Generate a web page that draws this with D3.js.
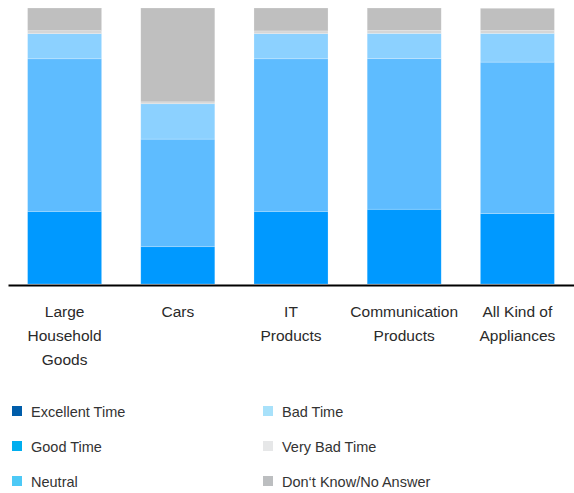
<!DOCTYPE html>
<html>
<head>
<meta charset="utf-8">
<script src="https://cdn.jsdelivr.net/npm/d3@7"></script>
<style>
  html, body { margin: 0; padding: 0; background: #fff; }
  svg { display: block; }
  text { font-family: "Liberation Sans", Arial, sans-serif; }
</style>
</head>
<body>
<svg id="chart" width="574" height="493"></svg>
<script>
// Product categories (line breaks mark the wrapped label lines)
const categories = [
  "Large\nHousehold\nGoods",
  "Cars",
  "IT\nProducts",
  "Communication\nProducts",
  "All Kind of\nAppliances"
];

// Share of answers per category, in percent, stacked bottom to top
const excellentTime = [0, 0, 0, 0, 0];
const goodTime      = [26.3, 13.5, 26.3, 27.1, 25.5];
const neutral       = [55.3, 39.0, 55.3, 54.6, 54.9];
const badTime       = [9.1, 12.8, 9.1, 9.1, 10.4];
const veryBadTime   = [1.1, 0.7, 1.0, 1.1, 1.1];
const dontKnow      = [8.2, 34.0, 8.3, 8.1, 8.0];

const seriesNames = ["Excellent Time", "Good Time", "Neutral", "Bad Time", "Very Bad Time", "Don\u2018t Know/No Answer"];
const seriesValues = [excellentTime, goodTime, neutral, badTime, veryBadTime, dontKnow];

// Fill colours for the bar segments and for the legend swatches
const barColors    = ["#005DAA", "#0099FF", "#5EBCFF", "#8CD1FF", "#D6D6D6", "#BFBFBF"];
const legendColors = ["#005DAA", "#00AEEF", "#4DC9F6", "#A8E1FA", "#E6E7E8", "#BCBEC0"];

const svg = d3.select("#chart");

const x = d3.scaleBand()
  .domain(categories)
  .range([8, 574])
  .paddingInner(0.346)
  .paddingOuter(0.173);

const y = d3.scaleLinear().domain([0, 100]).range([284, 8]);

// Build the stack from the named series
const table = categories.map((c, i) => {
  const row = { category: c };
  seriesNames.forEach((s, j) => { row[s] = seriesValues[j][i]; });
  return row;
});
const stacked = d3.stack().keys(seriesNames)(table);

svg.append("g")
  .selectAll("g")
  .data(stacked)
  .join("g")
    .attr("fill", (d, i) => barColors[i])
  .selectAll("rect")
  .data(d => d)
  .join("rect")
    .attr("x", d => x(d.data.category))
    .attr("width", x.bandwidth())
    .attr("y", d => y(d[1]))
    .attr("height", d => Math.max(0, y(d[0]) - y(d[1])))
    .attr("stroke", "#fff")
    .attr("stroke-opacity", d => (d[1] - d[0]) > 0 ? 0.35 : 0)
    .attr("stroke-width", 0.6);

// Category axis
const axis = svg.append("g")
  .attr("transform", "translate(0,285)")
  .call(d3.axisBottom(x).tickSize(0).tickFormat(""));
axis.select(".domain").attr("stroke", "#000").attr("stroke-width", 2);

axis.selectAll(".tick").each(function(d) {
  const lines = d.split("\n");
  const t = d3.select(this).append("text")
    .attr("fill", "#2a2a2a")
    .attr("font-size", 15.5)
    .attr("text-anchor", "middle");
  lines.forEach((line, k) => {
    t.append("tspan").attr("x", 0).attr("y", 31.5 + k * 24).text(line);
  });
});

// Legend in two columns
const legend = svg.append("g")
  .selectAll("g")
  .data(seriesNames)
  .join("g")
    .attr("transform", (d, i) => `translate(${i < 3 ? 12 : 263},${406 + (i % 3) * 35})`);

legend.append("rect")
  .attr("width", 10)
  .attr("height", 10)
  .attr("fill", (d, i) => legendColors[i]);

legend.append("text")
  .attr("x", 19)
  .attr("y", 10.5)
  .attr("font-size", 14.5)
  .attr("fill", "#333")
  .text(d => d);
</script>
</body>
</html>
